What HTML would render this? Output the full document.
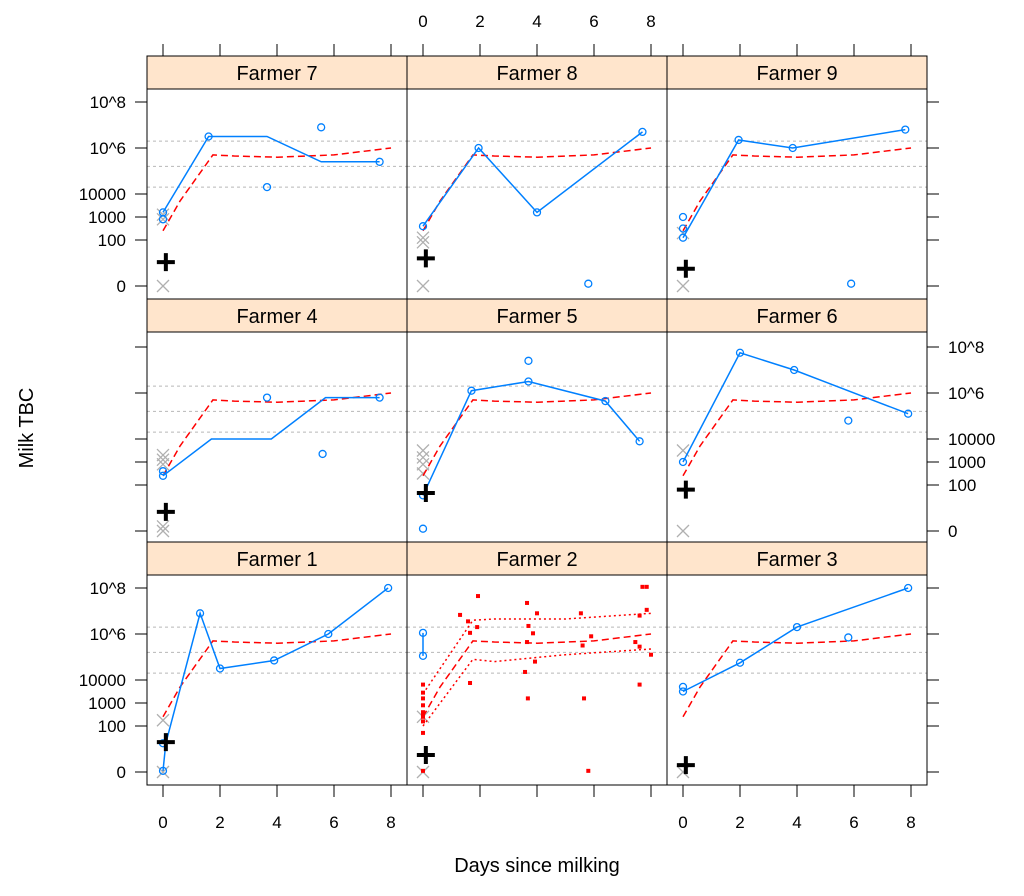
<!DOCTYPE html>
<html><head><meta charset="utf-8"><style>
html,body{margin:0;padding:0;background:#fff;}
svg{display:block;font-family:"Liberation Sans",sans-serif;}
</style></head><body>
<svg id="chart" width="1024" height="896" viewBox="0 0 1024 896" xmlns="http://www.w3.org/2000/svg"></svg>
<script>
// ---- data ----
const xTicks = [0,2,4,6,8];
const yTickVals = [0,100,1000,10000,1e6,1e8];
const yTickLabels = ["0","100","1000","10000","10^6","10^8"];
const gridLogs = [6.3,5.2,4.3];
const fitDays = [0,0.6,1.75,2.5,4,6,8];
const fitLogs = [2.4,3.7,5.7,5.65,5.6,5.7,6.0];
const upperDays = [0,1.75,2.5,5,8];
const upperLogs = [3.4,6.6,6.65,6.65,6.9];
const lowerDays = [0,1.75,2.5,5,8];
const lowerLogs = [2.0,4.9,4.8,5.1,5.35];
const panelNames = ["Farmer 7","Farmer 8","Farmer 9","Farmer 4","Farmer 5","Farmer 6","Farmer 1","Farmer 2","Farmer 3"];
const lineDays = [[0,1.6,3.65,5.55,7.6],[0,1.95,4,7.7],[0,1.95,3.85,7.8],[0,1.7,3.8,5.7,7.6],[0,1.7,3.7,6.4,7.6],[0,2,3.9,7.9],[0,0.1,1.3,2,3.9,5.8,7.9],[0,0],[0,2,4,7.9]];
const lineLogs = [[3.2,6.5,6.5,5.4,5.4],[2.6,6.0,3.2,6.7],[2.1,6.35,6.0,6.8],[2.4,4.0,4.0,5.8,5.8],[1.55,6.1,6.5,5.65,3.9],[3.0,7.75,7.0,5.1],[0.05,1.25,6.9,4.5,4.85,6.0,8.0],[6.05,5.05],[3.5,4.75,6.3,8.0]];
const circDays = [[0,0,1.6,3.65,5.55,7.6],[0,1.95,4,5.8,7.7],[0,0,0,1.95,3.85,5.9,7.8],[0,0,3.65,5.6,7.6],[0,1.7,3.7,3.7,6.4,7.6,0],[0,2,3.9,5.8,7.9],[0,0,1.3,2,3.9,5.8,7.9],[0,0],[0,0,2,4,5.8,7.9]];
const circLogs = [[3.2,2.9,6.5,4.3,6.9,5.4],[2.6,6.0,3.2,0.1,6.7],[2.1,3.0,2.5,6.35,6.0,0.1,6.8],[2.4,2.6,5.8,3.35,5.8],[1.55,6.1,6.5,7.4,5.65,3.9,0.1],[3.0,7.75,7.0,4.8,5.1],[0.05,1.25,6.9,4.5,4.85,6.0,8.0],[6.05,5.05],[3.7,3.5,4.75,6.3,5.85,8.0]];
const plusLogs = [1.04,1.2,0.75,0.83,1.65,1.8,1.3,0.74,0.3];
const greyLogs = [[0,2.9,3.1],[0,1.9,2.1],[0,2.3],[0,0.2,2.9,3.1,3.3],[2.5,2.9,3.2,3.5],[0,3.5],[0,2.25],[0,2.4],[0]];
const f2Days = [1.93,1.3,1.58,1.65,1.9,1.65,3.65,4.0,3.7,3.86,3.65,3.93,3.58,3.68,5.54,5.9,5.6,5.65,5.8,7.7,7.85,7.85,7.6,7.45,7.6,8.0,7.6,0,0,0,0,0,0,0,0,0,0];
const f2Logs = [7.65,6.83,6.55,6.05,6.3,3.87,7.35,6.9,6.35,6.03,5.65,4.8,4.35,3.2,6.9,5.9,5.5,3.2,0.05,8.05,8.05,7.05,6.8,5.65,5.45,5.1,3.8,3.8,3.45,3.2,2.9,2.6,2.5,2.4,2.2,1.7,0.05];
// ---- geometry ----
const colL=[147,407,667], colW=260;
const rowTop=[56,299,542], stripH=33, panelH=210;
const y8=[102,347,588];
const svg=document.getElementById('chart');
const NS='http://www.w3.org/2000/svg';
function mk(t,a,p){const e=document.createElementNS(NS,t);for(const k in a)e.setAttribute(k,a[k]);(p||svg).appendChild(e);return e;}
function xs(c,d){return colL[c]+16+d*28.5;}
function ys(r,L){return y8[r]+(8-L)*23;}
function lg(v){return v<=1?0:Math.log10(v);}
function pathD(c,r,ds,ls){return ds.map((d,i)=>(i?'L':'M')+xs(c,d).toFixed(1)+' '+ys(r,ls[i]).toFixed(1)).join(' ');}

for(let p=0;p<9;p++){
  const r=Math.floor(p/3), c=p%3;
  const g=mk('g',{});
  
  
  const strip=mk('rect',{x:colL[c],y:rowTop[r],width:colW,height:stripH,fill:'#ffe5cc',stroke:'#000','stroke-width':1},g);
  
  
  const st=mk('text',{x:colL[c]+colW/2,y:rowTop[r]+24,'text-anchor':'middle','font-size':20,fill:'#000'},g);
  st.textContent=panelNames[p];
  
  
  const top=rowTop[r]+stripH;
  const clip=mk('clipPath',{id:'cl'+p},g);
  mk('rect',{x:colL[c],y:top,width:colW,height:panelH},clip);
  const inner=mk('g',{'clip-path':'url(#cl'+p+')'},g);
  gridLogs.forEach(L=>{const gl=mk('line',{x1:colL[c],x2:colL[c]+colW,y1:ys(r,L),y2:ys(r,L),stroke:'#b8b8b8','stroke-dasharray':'3,3','stroke-width':1},inner);
    });
  greyLogs[p].forEach(L=>{const x=xs(c,0),y=ys(r,L);
    const gx=mk('path',{d:`M${x-6} ${y-6}L${x+6} ${y+6}M${x-6} ${y+6}L${x+6} ${y-6}`,stroke:'#b0b0b0','stroke-width':1.3,fill:'none'},inner);
    });
  if(p===7){
    const ub=mk('path',{d:pathD(c,r,upperDays,upperLogs),stroke:'#ff0000','stroke-width':1.5,fill:'none','stroke-dasharray':'2,3'},inner);
    
    const lb=mk('path',{d:pathD(c,r,lowerDays,lowerLogs),stroke:'#ff0000','stroke-width':1.5,fill:'none','stroke-dasharray':'2,3'},inner);
    
    f2Days.forEach((d,i)=>{const sq=mk('rect',{x:xs(c,d)-2,y:ys(r,f2Logs[i])-2,width:4,height:4,fill:'#ff0000'},inner);
      });
  }
  const fit=mk('path',{d:pathD(c,r,fitDays,fitLogs),stroke:'#ff0000','stroke-width':1.5,fill:'none','stroke-dasharray':'7,4'},inner);
  
  const bl=mk('path',{d:pathD(c,r,lineDays[p],lineLogs[p]),stroke:'#0080ff','stroke-width':1.5,fill:'none'},inner);
  
  circDays[p].forEach((d,i)=>{const ci=mk('circle',{cx:xs(c,d),cy:ys(r,circLogs[p][i]),r:3.5,fill:'none',stroke:'#0080ff','stroke-width':1.3},inner);
    });
  {const x=xs(c,0.1),y=ys(r,plusLogs[p]);
   const pl=mk('path',{d:`M${x-9} ${y}L${x+9} ${y}M${x} ${y-9}L${x} ${y+9}`,stroke:'#000','stroke-width':4,fill:'none'},inner);
   }
  const fr=mk('rect',{x:colL[c],y:top,width:colW,height:panelH,fill:'none',stroke:'#000','stroke-width':1},g);
  
}
for(let c=0;c<3;c++){
  xTicks.forEach(t=>{const x=xs(c,t);
    mk('line',{x1:x,x2:x,y1:44,y2:56,stroke:'#000'});
    mk('line',{x1:x,x2:x,y1:785,y2:797,stroke:'#000'});
    if(c===1){const tl=mk('text',{x:x,y:27,'text-anchor':'middle','font-size':17});tl.textContent=t;}
    else{const tl=mk('text',{x:x,y:828,'text-anchor':'middle','font-size':17});tl.textContent=t;}
  });
}
for(let r=0;r<3;r++){
  yTickVals.forEach((v,i)=>{const y=ys(r,lg(v));
    mk('line',{x1:135,x2:147,y1:y,y2:y,stroke:'#000'});
    mk('line',{x1:927,x2:939,y1:y,y2:y,stroke:'#000'});
    if(r!==1){const tl=mk('text',{x:126,y:y+6,'text-anchor':'end','font-size':17});tl.textContent=yTickLabels[i];}
    else{const tl=mk('text',{x:948,y:y+6,'text-anchor':'start','font-size':17});tl.textContent=yTickLabels[i];}
  });
}
const xt=mk('text',{x:537,y:872,'text-anchor':'middle','font-size':20});xt.textContent='Days since milking';

const yt=mk('text',{x:0,y:0,'text-anchor':'middle','font-size':20,transform:'translate(33,428) rotate(-90)'});yt.textContent='Milk TBC';

</script>
</body></html>
